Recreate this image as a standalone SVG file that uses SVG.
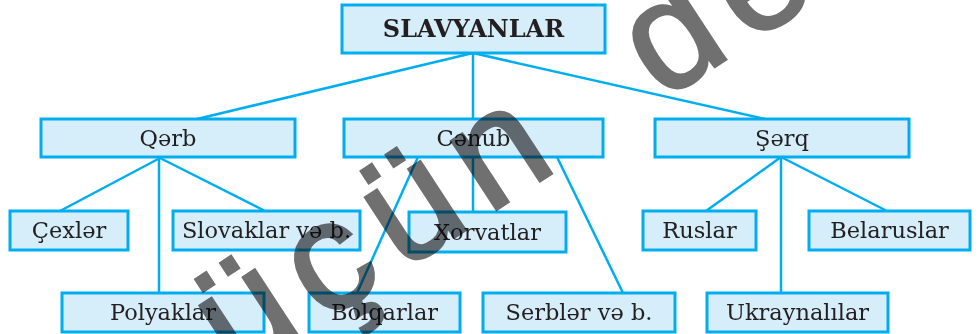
<svg xmlns="http://www.w3.org/2000/svg" width="979" height="334" viewBox="0 0 979 334">
<style>
.box{fill:#d6edfa;stroke:#00aeef;stroke-width:3}
.lbl{font-family:"DejaVu Serif","Liberation Serif",serif;font-size:22.5px;fill:#231f20;text-anchor:middle}
.ttl{font-family:"DejaVu Serif","Liberation Serif",serif;font-size:24px;font-weight:bold;fill:#231f20;text-anchor:middle}
.con line{stroke:#00aeef;stroke-width:2.5}
.wm{font-family:"Liberation Sans",Arial,sans-serif;font-size:155px;fill:#707070;stroke:#707070;stroke-width:3;letter-spacing:17px;word-spacing:45px;mix-blend-mode:multiply}
</style>
<g id="connectors" class="con">
<line x1="473" y1="53" x2="197" y2="119"/>
<line x1="473" y1="53" x2="473" y2="119"/>
<line x1="473" y1="53" x2="765" y2="119"/>
<line x1="160" y1="158" x2="60" y2="211"/>
<line x1="160" y1="158" x2="265" y2="211"/>
<line x1="159" y1="158" x2="159" y2="293"/>
<line x1="418" y1="157" x2="357" y2="293"/>
<line x1="473" y1="157" x2="473" y2="212"/>
<line x1="557" y1="157" x2="623" y2="293"/>
<line x1="781" y1="157" x2="706" y2="211"/>
<line x1="781" y1="157" x2="781" y2="293"/>
<line x1="781" y1="157" x2="887" y2="211"/>
</g>
<g id="slavyanlar"><rect class="box" x="342" y="5" width="263" height="48"/><text class="ttl" x="473.5" y="37">SLAVYANLAR</text></g>
<g id="qerb"><rect class="box" x="41" y="119" width="254" height="38"/><text class="lbl" x="168" y="146">Qərb</text></g>
<g id="cenub"><rect class="box" x="344" y="119" width="259" height="38"/><text class="lbl" x="473.5" y="146">Cənub</text></g>
<g id="serq"><rect class="box" x="655" y="119" width="254" height="38"/><text class="lbl" x="782" y="146">Şərq</text></g>
<g id="cexler"><rect class="box" x="10" y="211" width="118" height="39"/><text class="lbl" x="69" y="238">Çexlər</text></g>
<g id="slovaklar"><rect class="box" x="173" y="211" width="187" height="39"/><text class="lbl" x="266.5" y="238">Slovaklar və b.</text></g>
<g id="xorvatlar"><rect class="box" x="409" y="212" width="157" height="40"/><text class="lbl" x="487.5" y="240">Xorvatlar</text></g>
<g id="ruslar"><rect class="box" x="643" y="211" width="113" height="39"/><text class="lbl" x="699.5" y="238">Ruslar</text></g>
<g id="belaruslar"><rect class="box" x="809" y="211" width="161" height="39"/><text class="lbl" x="889.5" y="238">Belaruslar</text></g>
<g id="polyaklar"><rect class="box" x="62" y="293" width="202" height="39"/><text class="lbl" x="163" y="320">Polyaklar</text></g>
<g id="bolqarlar"><rect class="box" x="309" y="293" width="151" height="39"/><text class="lbl" x="384.5" y="320">Bolqarlar</text></g>
<g id="serbler"><rect class="box" x="483" y="293" width="192" height="39"/><text class="lbl" x="579" y="320">Serblər və b.</text></g>
<g id="ukraynalilar"><rect class="box" x="707" y="293" width="181" height="39"/><text class="lbl" x="797.5" y="320">Ukraynalılar</text></g>
<text class="wm" transform="translate(236,380) rotate(-33.2)">üçün de</text>
</svg>
